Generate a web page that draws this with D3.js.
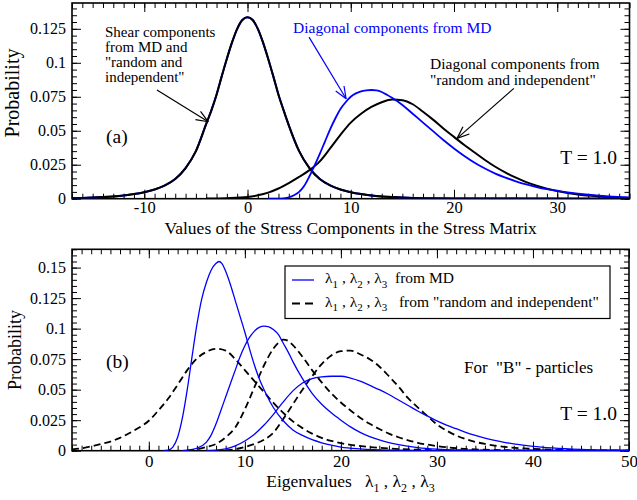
<!DOCTYPE html>
<html lang="en">
<head>
    <meta charset="UTF-8">
    <title>Stress components and eigenvalues</title>
    <script type="text/javascript" src="https://d3js.org/d3.v7.min.js"></script>
    <style>
        body {
            margin: 0;
            background: #fff;
        }
        svg {
            display: block;
        }
        svg text {
            font-family: "Liberation Serif", "Times New Roman", serif;
            white-space: pre;
        }
    </style>
</head>
<body>
<script>
    /* ---------------- data ---------------- */
    // panel (a): shear components, MD and "random and independent" nearly coincide
    const shearComp = [[-17,0.0003],[-16,0.0005],[-15,0.0008],[-14,0.0012],[-13,0.0017],[-12,0.0024],[-11,0.0034],
        [-10,0.0048],[-9,0.0068],[-8,0.0098],[-7,0.0145],[-6,0.0225],[-5,0.0350],[-4,0.0550],[-3.5,0.0650],[-3,0.0765],
        [-2.5,0.0900],[-2,0.1030],[-1.5,0.1150],[-1,0.1250],[-0.5,0.1315],[0,0.1335],[0.5,0.1315],[1,0.1250],[1.5,0.1150],
        [2,0.1030],[2.5,0.0900],[3,0.0765],[3.5,0.0650],[4,0.0540],[5,0.0350],[6,0.0225],[7,0.0145],[8,0.0098],[9,0.0068],
        [10,0.0048],[11,0.0034],[12,0.0024],[13,0.0017],[14,0.0012],[15,0.0008],[16,0.0005],[17,0.0003],[20,0.0001],[37,0]];
    const diagMD = [[2,0],[3,0],[3.5,0.0003],[4,0.001],[4.5,0.0025],[5,0.005],[5.5,0.0095],[6,0.0165],[6.5,0.0245],
        [7,0.033],[7.5,0.042],[8,0.051],[8.5,0.059],[9,0.066],[9.5,0.071],[10,0.075],[10.5,0.0775],[11,0.079],[11.5,0.0797],
        [12,0.080],[12.5,0.0797],[13,0.0785],[13.5,0.0765],[14,0.0742],[15,0.069],[16,0.0625],[17,0.056],[18,0.0495],
        [19,0.043],[20,0.037],[21,0.0315],[22,0.0265],[23,0.0222],[24,0.0185],[25,0.0155],[26,0.0128],[27,0.0105],
        [28,0.0086],[29,0.007],[30,0.0057],[31,0.0046],[32,0.0037],[33,0.0029],[34,0.0022],[35,0.0017],[37,0.001]];
    const diagRandom = [[-4,0.0001],[-2,0.0004],[0,0.0012],[1,0.0025],[2,0.0045],[3,0.0075],[4,0.0115],[5,0.016],
        [6,0.021],[7,0.0275],[8,0.037],[9,0.047],[10,0.056],[11,0.0625],[12,0.0675],[13,0.071],[14,0.073],[15,0.0725],
        [16,0.0695],[17,0.064],[18,0.058],[19,0.0515],[20,0.0455],[21,0.0395],[22,0.034],[23,0.0285],[24,0.0235],
        [25,0.0192],[26,0.0155],[27,0.0122],[28,0.0095],[29,0.0073],[30,0.0056],[31,0.0042],[32,0.0031],[33,0.0023],
        [34,0.0016],[35,0.0011],[37,0.0006]];

    // panel (b): eigenvalues lambda1, lambda2, lambda3
    const eigMD1 = [[1.5,0],[2,0.0005],[2.5,0.003],[3,0.011],[3.5,0.027],[4,0.05],[4.5,0.077],[5,0.103],[5.5,0.124],
        [6,0.138],[6.5,0.148],[7,0.1535],[7.3,0.155],[7.6,0.1535],[8,0.147],[8.5,0.136],[9,0.123],[9.5,0.11],[10,0.097],
        [10.5,0.083],[11,0.07],[11.5,0.059],[12,0.05],[13,0.035],[14,0.0245],[15,0.017],[16,0.0125],[17,0.009],
        [18,0.0065],[19,0.0045],[20,0.003],[22,0.0015],[25,0.0005],[30,0.0001],[50,0]];
    const eigMD2 = [[3.5,0],[4,0.0005],[5,0.002],[6,0.007],[6.5,0.013],[7,0.022],[7.5,0.033],[8,0.044],[8.5,0.055],
        [9,0.066],[9.5,0.077],[10,0.086],[10.5,0.093],[11,0.098],[11.5,0.101],[12,0.102],[12.5,0.1015],[13,0.099],
        [13.5,0.095],[14,0.088],[14.5,0.081],[15,0.073],[16,0.059],[17,0.047],[18,0.038],[19,0.031],[20,0.025],
        [21,0.0195],[22,0.015],[23,0.0115],[24,0.0088],[25,0.0066],[26,0.0049],[28,0.0026],[30,0.0013],[33,0.0004],
        [38,0.0001],[50,0]];
    const eigMD3 = [[6,0],[7,0.0005],[8,0.0015],[9,0.004],[10,0.008],[11,0.0135],[12,0.021],[13,0.03],[14,0.04],
        [15,0.049],[16,0.0555],[17,0.059],[18,0.0605],[19,0.061],[20,0.061],[21,0.0595],[22,0.057],[23,0.0535],[24,0.05],
        [25,0.046],[26,0.0415],[27,0.037],[28,0.0325],[29,0.0285],[30,0.0245],[31,0.021],[32,0.018],[33,0.015],
        [34,0.0125],[35,0.0103],[36,0.0085],[37,0.0069],[38,0.0056],[40,0.0036],[42,0.0023],[45,0.0011],[48,0.0005],[50,0.0003]];
    const eigRandom1 = [[-8,0.001],[-7,0.002],[-6,0.0035],[-5,0.0055],[-4,0.0075],[-3,0.0105],[-2,0.0145],[-1,0.019],
        [0,0.0245],[1,0.033],[2,0.0425],[3,0.054],[4,0.066],[5,0.0755],[6,0.081],[7,0.0835],[8,0.082],[9,0.075],[10,0.066],
        [11,0.057],[12,0.048],[13,0.039],[14,0.031],[15,0.024],[16,0.0185],[17,0.014],[18,0.0105],[19,0.008],[20,0.0062],
        [21,0.0048],[23,0.003],[25,0.0018],[28,0.0008],[32,0.0002],[50,0]];
    const eigRandom2 = [[4,0.0003],[5,0.001],[6,0.003],[7,0.0055],[8,0.011],[9,0.019],[10,0.034],[11,0.052],[12,0.07],
        [13,0.084],[13.5,0.0885],[14,0.091],[14.5,0.09],[15,0.0865],[16,0.077],[17,0.066],[18,0.056],[19,0.047],[20,0.0395],
        [21,0.033],[22,0.027],[23,0.022],[24,0.0178],[25,0.014],[26,0.011],[27,0.0085],[28,0.0065],[30,0.0038],[32,0.002],
        [35,0.0008],[40,0.0002],[50,0]];
    const eigRandom3 = [[8,0.0003],[9,0.0012],[10,0.003],[11,0.0055],[12,0.009],[13,0.015],[14,0.026],[15,0.038],
        [16,0.05],[17,0.061],[18,0.071],[19,0.078],[20,0.0815],[21,0.082],[22,0.079],[23,0.075],[24,0.069],[25,0.061],
        [26,0.0525],[27,0.043],[28,0.0355],[29,0.0285],[30,0.0215],[31,0.0165],[32,0.0125],[33,0.0095],[34,0.0072],
        [35,0.0055],[37,0.0032],[40,0.0015],[45,0.0004],[50,0.0001]];

    // tick labels
    const xTicksA = [-10, 0, 10, 20, 30];
    const yTicksA = [0, 0.025, 0.05, 0.075, 0.1, 0.125];
    const xTicksB = [0, 10, 20, 30, 40, 50];
    const yTicksB = [0, 0.025, 0.05, 0.075, 0.1, 0.125, 0.15];

    /* ---------------- setup ---------------- */
    const FONT = "Liberation Serif";
    const BLUE = "#0000ff";

    let svg = d3.select("body")
        .append("svg")
        .attr("width", 637)
        .attr("height", 500);

    let boxA = {left: 72, right: 629.5, top: 3, bottom: 198.7};
    let boxB = {left: 72, right: 629, top: 249.3, bottom: 450.7};

    let xA = d3.scaleLinear().domain([-17, 37]).range([boxA.left, boxA.right]);
    let yA = d3.scaleLinear().domain([0, 0.144]).range([boxA.bottom, boxA.top]);
    let xB = d3.scaleLinear().domain([-8, 50]).range([boxB.left, boxB.right]);
    let yB = d3.scaleLinear().domain([0, 0.165]).range([boxB.bottom, boxB.top]);

    /* 四边都有朝内的刻度 */
    function addAxes(box, x, y, o) {
        let g = svg.append("g");
        let sides = [
            {axis: d3.axisBottom, sc: x, t: `translate(0,${box.bottom})`, major: o.xMajor, minor: o.xMinor, label: true, pad: o.xPad, fs: o.xFont},
            {axis: d3.axisTop, sc: x, t: `translate(0,${box.top})`, major: o.xMajor, minor: o.xMinor},
            {axis: d3.axisLeft, sc: y, t: `translate(${box.left},0)`, major: o.yMajor, minor: o.yMinor, label: true, pad: 6, fs: 16},
            {axis: d3.axisRight, sc: y, t: `translate(${box.right},0)`, major: o.yMajor, minor: o.yMinor}
        ];
        sides.forEach(s => {
            g.append("g")
                .attr("transform", s.t)
                .call(s.axis(s.sc).tickValues(s.minor).tickSize(-5).tickFormat(""));
            g.append("g")
                .attr("transform", s.t)
                .call(s.axis(s.sc).tickValues(s.major).tickSize(-9)
                    .tickPadding(s.pad || 3)
                    .tickFormat(s.label ? (d => String(d)) : ""))
                .attr("font-family", FONT)
                .attr("font-size", s.fs || 16);
        });
        g.selectAll(".domain").remove();
        g.selectAll(".tick line").attr("stroke", "#000").attr("stroke-width", 1);
        g.selectAll(".tick text").attr("fill", "#000").style("font-family", FONT);

        svg.append("rect")
            .attr("x", box.left)
            .attr("y", box.top)
            .attr("width", box.right - box.left)
            .attr("height", box.bottom - box.top)
            .attr("fill", "none")
            .attr("stroke", "#000")
            .attr("stroke-width", 1.6);
    }

    function clipFor(id, box) {
        svg.append("clipPath").attr("id", id)
            .append("rect")
            .attr("x", box.left).attr("y", box.top)
            .attr("width", box.right - box.left).attr("height", box.bottom - box.top);
        return svg.append("g").attr("clip-path", `url(#${id})`);
    }

    function curve(g, data, x, y, color, width, dash) {
        let line = d3.line()
            .x(d => x(d[0]))
            .y(d => y(d[1]))
            .curve(d3.curveMonotoneX);
        g.append("path")
            .datum(data)
            .attr("d", line)
            .attr("fill", "none")
            .attr("stroke", color)
            .attr("stroke-width", width)
            .attr("stroke-linejoin", "round")
            .attr("stroke-dasharray", dash || null);
    }

    /* 空心箭头 */
    function arrow(x1, y1, x2, y2, color) {
        let a = Math.atan2(y2 - y1, x2 - x1), len = 13, sp = 0.38;
        let g = svg.append("g").attr("stroke", color).attr("stroke-width", 1.2).attr("fill", "none");
        g.append("line").attr("x1", x1).attr("y1", y1).attr("x2", x2).attr("y2", y2);
        [a + Math.PI - sp, a + Math.PI + sp].forEach(t => {
            g.append("line")
                .attr("x1", x2).attr("y1", y2)
                .attr("x2", x2 + len * Math.cos(t)).attr("y2", y2 + len * Math.sin(t));
        });
    }

    function text(x, y, str, size, color, anchor) {
        return svg.append("text")
            .attr("x", x)
            .attr("y", y)
            .attr("font-family", FONT)
            .attr("font-size", size)
            .attr("fill", color || "#000")
            .attr("text-anchor", anchor || "start")
            .text(str);
    }

    /* λ1 , λ2 , λ3 + tail */
    function lambdas(t, size, tail) {
        let sub = Math.round(size * 0.68), sh = size * 0.3;
        ["1", "2", "3"].forEach((n, i) => {
            t.append("tspan").text((i ? " , " : "") + "λ").attr("dy", i ? -sh : 0);
            t.append("tspan").text(n).attr("font-size", sub).attr("dy", sh);
        });
        if (tail) t.append("tspan").text(tail).attr("dy", -sh);
        return t;
    }

    /* ===================== panel (a) ===================== */
    addAxes(boxA, xA, yA, {
        xMajor: xTicksA, xMinor: d3.range(-17, 38, 1), xPad: 3, xFont: 16.5,
        yMajor: yTicksA, yMinor: d3.range(0, 0.1401, 0.005)
    });

    let gA = clipFor("clipA", boxA);
    curve(gA, shearComp, xA, yA, BLUE, 2);
    curve(gA, shearComp, xA, yA, "#000", 2);
    curve(gA, diagRandom, xA, yA, "#000", 2);
    curve(gA, diagMD, xA, yA, BLUE, 1.8);

    ["Shear components", "from MD and", "\"random and", "independent\""].forEach((s, i) => {
        text(105, 36.5 + i * 15.3, s, 15);
    });
    arrow(xA(-8.77), yA(0.0799), xA(-3.8), yA(0.0566), "#000");

    text(293, 33, "Diagonal components from MD", 15.5, BLUE);
    arrow(xA(5.96), yA(0.1189), xA(9.55), yA(0.0735), BLUE);

    text(430, 69, "Diagonal components from", 15.5);
    text(430, 85, "\"random and independent\"", 15.5);
    arrow(xA(25.8), yA(0.0812), xA(20.3), yA(0.0444), "#000");

    text(106, 143, "(a)", 19.5);
    text(617, 164, "T = 1.0", 19.5, "#000", "end");

    text(350.7, 234, "Values of the Stress Components in the Stress Matrix", 17.5, "#000", "middle");
    text(0, 0, "Probability", 20, "#000", "middle")
        .attr("transform", "translate(19,93) rotate(-90)");

    /* ===================== panel (b) ===================== */
    addAxes(boxB, xB, yB, {
        xMajor: xTicksB, xMinor: d3.range(-8, 51, 1), xPad: 4, xFont: 17,
        yMajor: yTicksB, yMinor: d3.range(0, 0.1651, 0.005)
    });

    let gB = clipFor("clipB", boxB);
    [eigRandom1, eigRandom2, eigRandom3].forEach(d => curve(gB, d, xB, yB, "#000", 1.8, "7,4"));
    [eigMD1, eigMD2, eigMD3].forEach(d => curve(gB, d, xB, yB, BLUE, 1.3));

    // legend
    svg.append("rect")
        .attr("x", 285).attr("y", 266)
        .attr("width", 325).attr("height", 52.5)
        .attr("fill", "#fff")
        .attr("stroke", "#000")
        .attr("stroke-width", 1.2);
    svg.append("line")
        .attr("x1", 292).attr("x2", 314).attr("y1", 280).attr("y2", 280)
        .attr("stroke", BLUE).attr("stroke-width", 1.3);
    svg.append("line")
        .attr("x1", 292).attr("x2", 314).attr("y1", 303.5).attr("y2", 303.5)
        .attr("stroke", "#000").attr("stroke-width", 1.8).attr("stroke-dasharray", "8,5");
    lambdas(text(325, 283, "", 15.5), 15.5, "  from MD");
    lambdas(text(325, 306.5, "", 15.5), 15.5, "   from \"random and independent\"");

    text(106, 368, "(b)", 19.5);
    text(464, 372.5, "For  \"B\" - particles", 17);
    text(617, 420, "T = 1.0", 19.5, "#000", "end");

    lambdas(text(350.5, 487, "Eigenvalues   ", 17.5, "#000", "middle"), 17.5);
    text(0, 0, "Probability", 18, "#000", "middle")
        .attr("transform", "translate(21,350) rotate(-90)");
</script>
</body>
</html>
